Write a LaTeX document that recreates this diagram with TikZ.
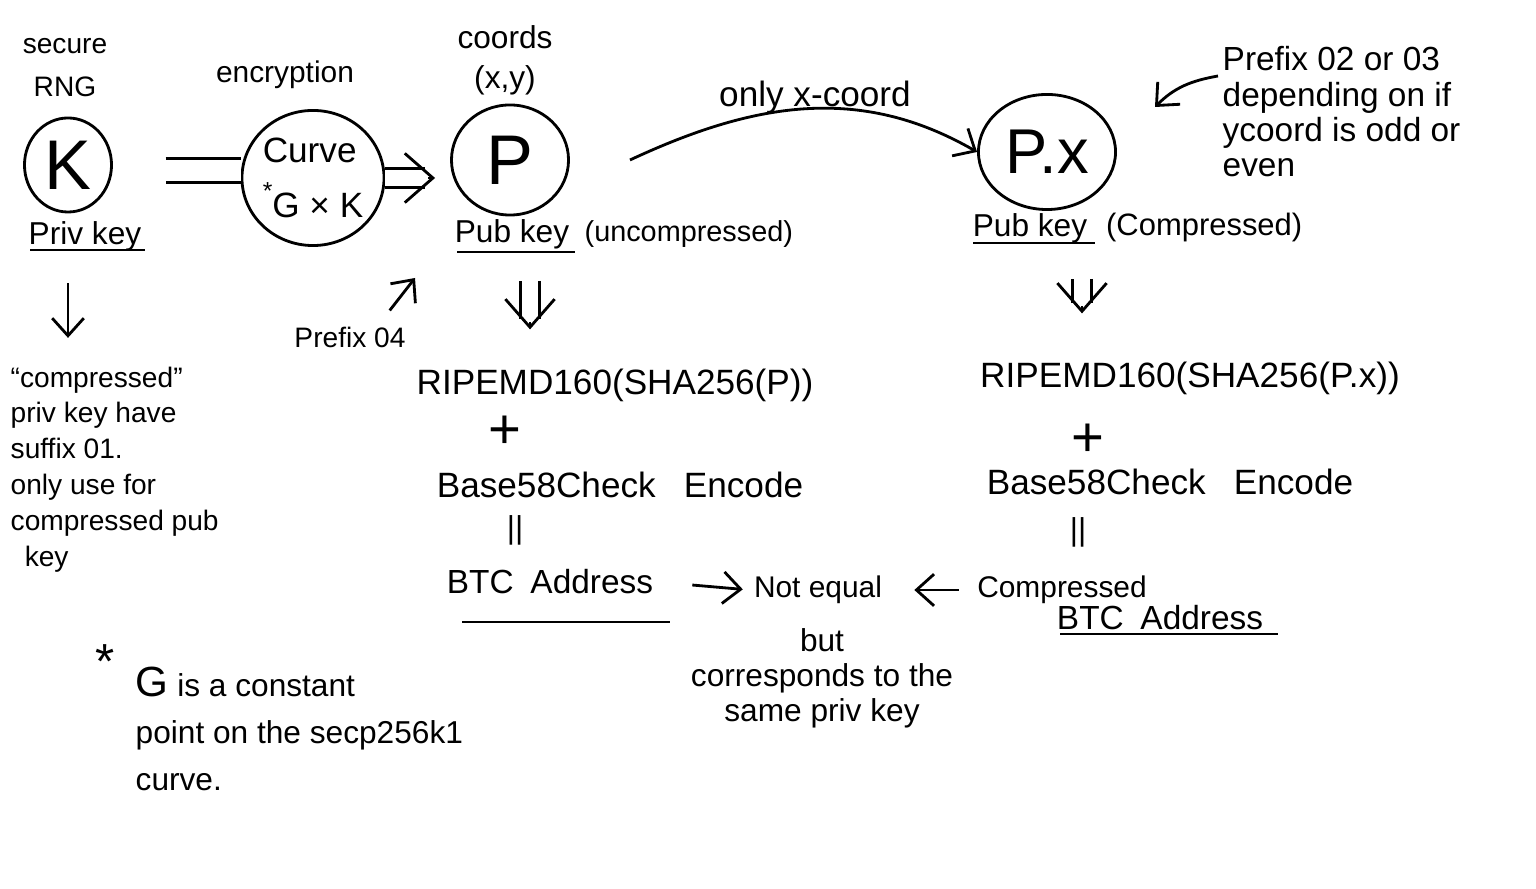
\documentclass[tikz,border=0pt]{standalone}
\usepackage{fontspec}
\setmainfont{Liberation Sans}
\usetikzlibrary{positioning, calc, shapes.geometric, arrows.meta}

\tikzset{
  blob/.style={ellipse, draw, thick, inner sep=0pt},
  hand/.style={font=\fontsize{9}{11}\selectfont, inner sep=1pt},
  note/.style={font=\fontsize{8}{10.2}\selectfont, align=left, inner sep=0pt},
  arr/.style={thick, -{Straight Barb[length=5pt, width=9pt]}},
  dblline/.style={thick, double, double distance=4.5pt},
  dbltip/.style={thick, -{Straight Barb[length=8pt, width=14pt]}},
}
\newcommand{\dblarrow}[2]{%
  \draw[dblline, shorten >=3pt] (#1) -- (#2);
  \draw[dbltip] ($(#2)!2pt!(#1)$) -- (#2);}

\begin{document}
\begin{tikzpicture}[x=0.01cm, y=-0.01cm]
    \useasboundingbox (0,0) rectangle (1536,889);
    % private key
    \node[hand, align=center, font=\fontsize{8}{12.2}\selectfont] (rng) at (65,68) {secure\\RNG};
    \node[blob, minimum width=0.87cm, minimum height=0.94cm, font=\fontsize{20}{22}\selectfont] (K) at (68,165) {K};
    \node[hand] (privkey) at (85,236) {Priv key};
    \draw[thick] (30,250) -- (145,250);
    \node[note, anchor=north west] (privnote) at (10,366) {``compressed''\\priv key have\\suffix 01.\\only use for\\compressed pub\\\hspace*{4pt}key};
    \draw[arr, shorten <=8pt, shorten >=8pt] (privkey.south -| K) -- (privnote.north -| K);

    % curve multiplication
    \node[hand, font=\fontsize{8.5}{11}\selectfont] (enc) at (285,75) {encryption};
    \node[blob, minimum width=1.35cm, minimum height=1.35cm, align=left, font=\fontsize{10}{15.5}\selectfont] (curve) at (313,178) {Curve\\\raisebox{5pt}{\fontsize{7}{7}\selectfont *}G × K};
    \coordinate (kq) at ([yshift=-1.5pt]K.east);
    \draw[dblline, double distance=6pt, shorten <=15pt] (kq) -- (kq -| curve.west);

    % uncompressed pub key
    \node[hand, align=center, font=\fontsize{9}{11.4}\selectfont] (coords) at (505,60) {coords\\(x,y)};
    \node[blob, minimum width=1.17cm, minimum height=1.10cm, font=\fontsize{20}{22}\selectfont] (P) at (510,160) {P};
    \coordinate (tipP) at ($(curve.east -| P.west)+(-15,0)$);
    \dblarrow{curve.east}{tipP}
    \node[hand] (pubU) at (512,234) {Pub key};
    \node[hand, font=\fontsize{8.2}{10}\selectfont, right=2pt of pubU] (uncomp) {(uncompressed)};
    \draw[thick] (457,252) -- (575,252);
    \node[hand, font=\fontsize{8}{10}\selectfont] (pre04) at (350,337) {Prefix 04};
    \coordinate (tip04) at (415,278);
    \draw[arr] ([shift={(-20,-12)}]pre04.north east) -- (tip04);

    \node[hand, font=\fontsize{10}{12}\selectfont] (ripeU) at (615,385) {RIPEMD160(SHA256(P))};
    \node[hand, font=\fontsize{16}{18}\selectfont] (plusU) at (505,432) {+};
    \node[hand, font=\fontsize{10}{12}\selectfont] (baseU) at (620,485) {Base58Check\hspace{0.8em}Encode};
    \node[hand] (eqU) at (515,530) {||};
    \node[hand, font=\fontsize{9.5}{11}\selectfont] (btcU) at (550,582) {BTC\hspace{0.5em}Address};
    \draw[thick] (462,622) -- (670,622);
    \coordinate (dnU) at ($(pubU.south)+(18,28)$);
    \coordinate (tipU) at ($(dnU |- ripeU.north)+(0,-35)$);
    \dblarrow{dnU}{tipU}

    % compressed pub key
    \node[blob, minimum width=1.37cm, minimum height=1.15cm, font=\fontsize{18}{20}\selectfont] (Px) at (1047,152) {P.x};
    \coordinate (xfrom) at (630,160);
    \draw[arr] (xfrom) to[out=25, in=150] (Px.west);
    \node[hand, font=\fontsize{10}{12}\selectfont] (onlyx) at (815,97) {only x-coord};
    \node[hand] (pubC) at (1030,228) {Pub key};
    \node[hand, font=\fontsize{8.8}{11}\selectfont, right=3pt of pubC] (comp) {(Compressed)};
    \draw[thick] (973,243) -- (1095,243);
    \node[note, anchor=north west, font=\fontsize{9.5}{10}\selectfont] (prefC) at (1222,46) {Prefix 02 or 03\\depending on if\\ycoord is odd or\\even};
    \coordinate (tipC) at (1155,107);
    \draw[arr] ([shift={(-4,30)}]prefC.north west) to[out=190, in=45] (tipC);

    \node[hand, font=\fontsize{10}{12}\selectfont] (ripeC) at (1190,378) {RIPEMD160(SHA256(P.x))};
    \node[hand, font=\fontsize{16}{18}\selectfont] (plusC) at (1088,440) {+};
    \node[hand, font=\fontsize{10}{12}\selectfont] (baseC) at (1170,482) {Base58Check\hspace{0.8em}Encode};
    \node[hand] (eqC) at (1078,532) {||};
    \node[hand, font=\fontsize{8.5}{10}\selectfont] (compC) at (1062,590) {Compressed};
    \node[hand, font=\fontsize{9.5}{11}\selectfont] (btcC) at (1160,618) {BTC\hspace{0.5em}Address};
    \draw[thick] (1060,634) -- (1278,634);
    \coordinate (dnC) at ($(pubC.south)+(52,32)$);
    \coordinate (tipC2) at ($(dnC |- ripeC.north)+(0,-44)$);
    \dblarrow{dnC}{tipC2}

    % comparison
    \node[hand, font=\fontsize{8.5}{11}\selectfont] (noteq) at (818,590) {Not equal};
    \node[hand, align=center, font=\fontsize{9}{10}\selectfont] (same) at (822,678) {but\\corresponds to the\\same priv key};
    \draw[arr, shorten <=10pt, shorten >=2pt] (btcU.east) -- (noteq.west);
    \draw[arr, shorten <=4pt, shorten >=8pt] (compC.west) -- (noteq.east);

    % footnote
    \node[hand, font=\fontsize{14}{14}\selectfont] (star) at (105,662) {*};
    \node[note, anchor=north west, font=\fontsize{9}{13.4}\selectfont] (gnote) at (135,666) {{\large G}\ is a constant\\point on the secp256k1\\curve.};
\end{tikzpicture}
\end{document}
